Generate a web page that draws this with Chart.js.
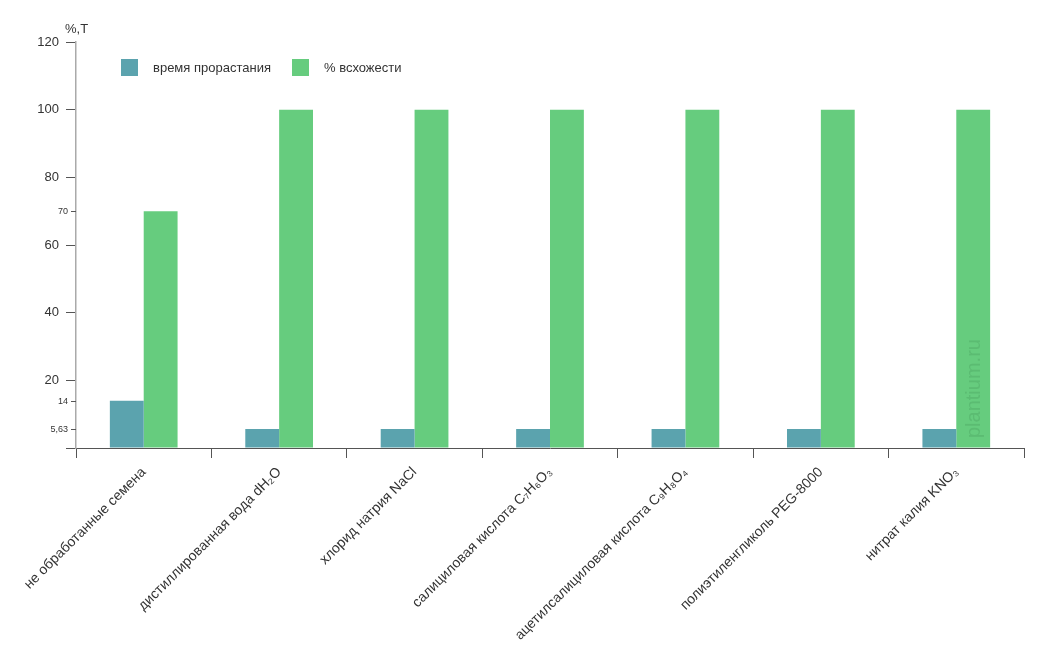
<!DOCTYPE html>
<html>
<head>
<meta charset="utf-8">
<script src="https://cdn.jsdelivr.net/npm/chart.js@4/dist/chart.umd.min.js"></script>
<style>
html,body{margin:0;padding:0;background:#fff;}
#wrap{width:1050px;height:663px;position:relative;}
</style>
</head>
<body>
<div id="wrap"><canvas id="c" width="1050" height="663"></canvas></div>
<script>
const categories = [
  'не обработанные семена',
  'дистиллированная вода dH₂O',
  'хлорид натрия NaCl',
  'салициловая кислота C₇H₆O₃',
  'ацетилсалициловая кислота C₉H₈O₄',
  'полиэтиленгликоль PEG-8000',
  'нитрат калия KNO₃'
];
const seriesNames = ['время прорастания', '% всхожести'];
const germinationTime = [14, 5.63, 5.63, 5.63, 5.63, 5.63, 5.63];
const germinationRate = [70, 100, 100, 100, 100, 100, 100];
const majorTicks = [0, 20, 40, 60, 80, 100, 120];
const minorTicks = [5.63, 14, 70];
const minorTickLabels = ['5,63', '14', '70'];
const yAxisTitle = '%,T';
const watermark = 'plantium.ru';

const colTeal = '#5ba3ae';
const colGreen = '#66cc7e';
const FONT = '"Liberation Sans", Arial, Helvetica, sans-serif';

const extrasPlugin = {
  id: 'extras',
  afterDraw(chart) {
    const ctx = chart.ctx;
    const y = chart.scales.y;
    const area = chart.chartArea;
    ctx.save();
    // minor ticks and labels
    ctx.font = '9px ' + FONT;
    ctx.fillStyle = '#333';
    ctx.textAlign = 'right';
    ctx.textBaseline = 'middle';
    ctx.strokeStyle = '#555';
    ctx.lineWidth = 1;
    minorTicks.forEach((v, i) => {
      const py = Math.round(y.getPixelForValue(v)) + 0.5;
      ctx.beginPath();
      ctx.moveTo(area.left - 5, py);
      ctx.lineTo(area.left, py);
      ctx.stroke();
      ctx.fillText(minorTickLabels[i], area.left - 8, py);
    });
    // axis title
    ctx.font = '13px ' + FONT;
    ctx.textAlign = 'left';
    ctx.textBaseline = 'middle';
    ctx.fillText(yAxisTitle, area.left - 11, area.top - 13);
    // legend
    const lx = area.left + 45, ly = area.top + 17;
    const items = [[colTeal, seriesNames[0], lx], [colGreen, seriesNames[1], lx + 171]];
    items.forEach(([c, t, x]) => {
      ctx.fillStyle = c;
      ctx.fillRect(x, ly, 17, 17);
      ctx.fillStyle = '#333';
      ctx.font = '13px ' + FONT;
      ctx.fillText(t, x + 32, ly + 9);
    });
    // watermark
    ctx.translate(area.right - 50, area.bottom - 10);
    ctx.rotate(-Math.PI / 2);
    ctx.font = '20px ' + FONT;
    ctx.fillStyle = 'rgba(60,140,80,0.25)';
    ctx.textAlign = 'left';
    ctx.textBaseline = 'middle';
    ctx.fillText(watermark, 0, 0);
    ctx.restore();
  }
};

new Chart(document.getElementById('c'), {
  type: 'bar',
  data: {
    labels: categories,
    datasets: [
      { label: seriesNames[0], data: germinationTime, backgroundColor: colTeal, borderWidth: 0,
        categoryPercentage: 0.5, barPercentage: 1.0 },
      { label: seriesNames[1], data: germinationRate, backgroundColor: colGreen, borderWidth: 0,
        categoryPercentage: 0.5, barPercentage: 1.0 }
    ]
  },
  options: {
    responsive: false,
    animation: false,
    devicePixelRatio: 1,
    layout: { padding: { top: 42, right: 26, left: 0, bottom: 0 } },
    plugins: { legend: { display: false }, tooltip: { enabled: false } },
    scales: {
      x: {
        grid: { display: true, drawOnChartArea: false, tickLength: 10, tickColor: '#555', offset: true },
        border: { color: '#555', width: 1 },
        ticks: { minRotation: 45, maxRotation: 45, autoSkip: false, padding: 6,
          color: '#333', font: { size: 14, family: FONT } },
        afterFit(s) { s.height = 215; }
      },
      y: {
        min: 0, max: 120,
        afterBuildTicks(s) { s.ticks = majorTicks.map(v => ({ value: v })); },
        grid: { display: true, drawOnChartArea: false, tickLength: 10, tickColor: '#555' },
        border: { color: '#aaa', width: 1.5 },
        ticks: { padding: 7, color: '#333', font: { size: 13, family: FONT },
          callback: v => (v === 0 ? '' : String(v)) },
        afterFit(s) { s.width = 76; }
      }
    }
  },
  plugins: [extrasPlugin]
});
</script>
</body>
</html>
